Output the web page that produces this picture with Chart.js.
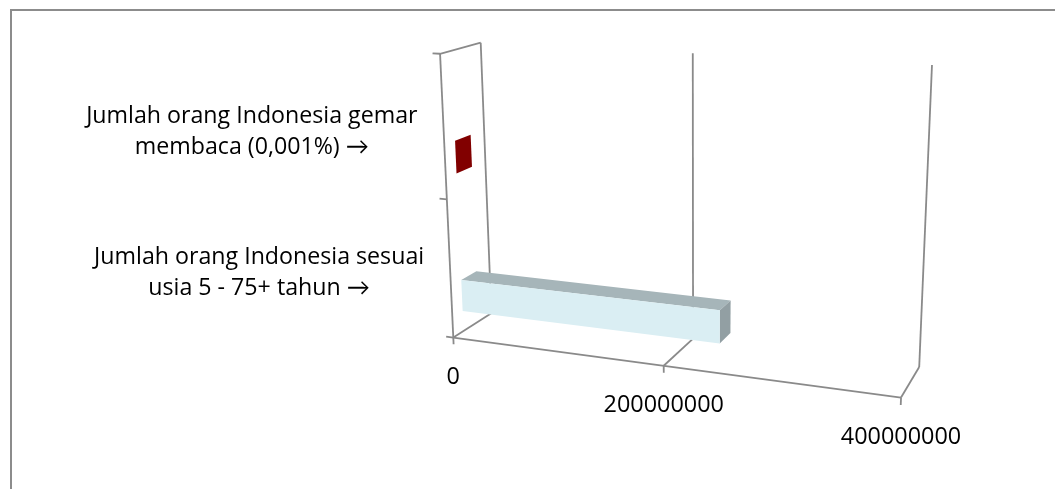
<!DOCTYPE html>
<html>
<head>
<meta charset="utf-8">
<script src="https://cdn.jsdelivr.net/npm/chart.js@4.4.1/dist/chart.umd.min.js"></script>
<style>
  html, body { margin: 0; padding: 0; background: #ffffff; }
  canvas { display: block; }
</style>
</head>
<body>
<canvas id="chart" width="1055" height="489"></canvas>
<script>
// Categories along the vertical axis, first one at the bottom
const categories = [
  ['Jumlah orang Indonesia sesuai', 'usia 5 - 75+ tahun →'],
  ['Jumlah orang Indonesia gemar', 'membaca (0,001%) →']
];
// Number of people per category
const peopleCount = [243000000, 2430];
// Base colour of each bar
const barColors = ['#DAEEF3', '#C00000'];
// Value axis ticks
const valueTicks = [0, 200000000, 400000000];

// ---- 3-D box camera -------------------------------------------------------
// Box coordinates: X = value fraction, Y = category fraction, Z = depth (0 front, 1 back).
// Screen anchors of the box corners used to calibrate a perspective camera.
const boxAnchors = [
  [[0, 0, 0], [453, 338]],
  [[0, 1, 0], [441, 54]],
  [[0, 0.5, 0], [446, 199]],
  [[0, 0, 1], [492, 313]],
  [[0, 1, 1], [480, 43]],
  [[0.5, 0, 0], [664, 366]],
  [[0.5, 0, 1], [693, 338]],
  [[0.5, 1, 1], [693, 53]],
  [[1, 0, 0], [901, 397]],
  [[1, 0, 1], [919, 368]],
  [[1, 1, 1], [932, 65]]
];
const barDepth = [0.26, 0.65];   // front and back face of every bar along Z
const barDrop = 0.1175;          // bars sit below the category centre

function solveLinear(A, b) {
  const n = b.length;
  const M = A.map((row, i) => row.concat([b[i]]));
  for (let c = 0; c < n; c++) {
    let p = c;
    for (let r = c + 1; r < n; r++) if (Math.abs(M[r][c]) > Math.abs(M[p][c])) p = r;
    const t = M[c]; M[c] = M[p]; M[p] = t;
    for (let r = 0; r < n; r++) {
      if (r === c) continue;
      const f = M[r][c] / M[c][c];
      for (let k = c; k <= n; k++) M[r][k] -= f * M[c][k];
    }
  }
  return M.map((row, i) => row[n] / row[i]);
}

function fitCamera(pairs) {
  const rows = [], rhs = [];
  pairs.forEach(([[X, Y, Z], [u, v]]) => {
    rows.push([X, Y, Z, 1, 0, 0, 0, 0, -u * X, -u * Y, -u * Z]); rhs.push(u);
    rows.push([0, 0, 0, 0, X, Y, Z, 1, -v * X, -v * Y, -v * Z]); rhs.push(v);
  });
  const n = 11;
  const AtA = Array.from({ length: n }, () => new Array(n).fill(0));
  const Atb = new Array(n).fill(0);
  rows.forEach((r, i) => {
    for (let a = 0; a < n; a++) {
      Atb[a] += r[a] * rhs[i];
      for (let b = 0; b < n; b++) AtA[a][b] += r[a] * r[b];
    }
  });
  const p = solveLinear(AtA, Atb);
  return (X, Y, Z) => {
    const w = p[8] * X + p[9] * Y + p[10] * Z + 1;
    return [(p[0] * X + p[1] * Y + p[2] * Z + p[3]) / w,
            (p[4] * X + p[5] * Y + p[6] * Z + p[7]) / w];
  };
}
const project = fitCamera(boxAnchors);

function shade(hex, f) {
  const n = parseInt(hex.slice(1), 16);
  const r = Math.round(((n >> 16) & 255) * f);
  const g = Math.round(((n >> 8) & 255) * f);
  const b = Math.round((n & 255) * f);
  return `rgb(${r},${g},${b})`;
}

function poly(ctx, pts, fill) {
  ctx.beginPath();
  pts.forEach(([u, v], i) => (i ? ctx.lineTo(u, v) : ctx.moveTo(u, v)));
  ctx.closePath();
  ctx.fillStyle = fill;
  ctx.fill();
}

function line(ctx, a, b) {
  ctx.beginPath();
  ctx.moveTo(a[0], a[1]);
  ctx.lineTo(b[0], b[1]);
  ctx.stroke();
}

const FRAME_COLOR = '#8a8a8a';
const LABEL_FONT = '23.2px "Open Sans", Lato, sans-serif';
const TICK_FONT = '23.4px "Open Sans", Lato, sans-serif';

const box3d = {
  id: 'box3d',
  beforeDatasetsDraw() { return false; },
  afterDraw(chart) {
    const ctx = chart.ctx;
    const xs = chart.scales.x;
    const ys = chart.scales.y;
    const xDec = v => xs.getDecimalForPixel(xs.getPixelForValue(v));
    const yDec = px => ys.getDecimalForPixel(px);

    ctx.save();
    // chart area outline (top and left edges)
    ctx.strokeStyle = '#8c8c8c';
    ctx.lineWidth = 2;
    ctx.beginPath();
    ctx.moveTo(11, chart.height);
    ctx.lineTo(11, 10);
    ctx.lineTo(chart.width, 10);
    ctx.stroke();

    // walls, floor and gridlines
    ctx.strokeStyle = FRAME_COLOR;
    ctx.lineWidth = 1.8;
    ctx.lineCap = 'butt';
    // side wall outline at X = 0
    line(ctx, project(0, 0, 0), project(0, 1, 0));
    line(ctx, project(0, 1, 0), project(0, 1, 1));
    // category axis ticks
    [0, 0.5, 1].forEach(Y => line(ctx, project(-0.018, Y, 0), project(0, Y, 0)));
    // floor front edge
    line(ctx, project(0, 0, 0), project(1, 0, 0));
    // value gridlines: up the back wall and across the floor
    xs.ticks.forEach(t => {
      const d = xDec(t.value);
      line(ctx, project(d, 1, 1), project(d, 0, 1));
      line(ctx, project(d, 0, 1), project(d, 0, 0));
      line(ctx, project(d, 0, 0), project(d, -0.025, 0));
    });

    // bars
    const meta = chart.getDatasetMeta(0);
    meta.data.forEach((bar, i) => {
      const x0 = xDec(0);
      const x1 = xDec(chart.data.datasets[0].data[i]);
      const ya = yDec(bar.y - bar.height / 2);
      const yb = yDec(bar.y + bar.height / 2);
      const y0 = Math.min(ya, yb) - barDrop;
      const y1 = Math.max(ya, yb) - barDrop;
      const [z0, z1] = barDepth;
      const base = barColors[i];
      // top face
      poly(ctx, [project(x0, y1, z0), project(x1, y1, z0), project(x1, y1, z1), project(x0, y1, z1)], shade(base, 0.76));
      // end face
      poly(ctx, [project(x1, y0, z0), project(x1, y0, z1), project(x1, y1, z1), project(x1, y1, z0)], shade(base, 0.67));
      // front face
      poly(ctx, [project(x0, y0, z0), project(x1, y0, z0), project(x1, y1, z0), project(x0, y1, z0)], base);
    });

    // value axis labels
    ctx.fillStyle = '#000000';
    ctx.textAlign = 'center';
    ctx.textBaseline = 'middle';
    ctx.font = TICK_FONT;
    xs.ticks.forEach(t => {
      const [u, v] = project(xDec(t.value), 0, 0);
      ctx.fillText(String(t.value), u, v + 40);
    });

    // category labels
    ctx.font = LABEL_FONT;
    ys.getLabels().forEach((lines, i) => {
      const yc = yDec(ys.getPixelForValue(i));
      const [u, v] = project(0, yc, 0);
      const w = Math.max(...lines.map(s => ctx.measureText(s).width));
      const cx = u - 26 - w / 2;
      const lh = 31;
      const top = v + 4 - (lines.length - 1) * lh / 2;
      lines.forEach((s, k) => ctx.fillText(s, cx, top + k * lh));
    });
    ctx.restore();
  }
};

new Chart(document.getElementById('chart'), {
  type: 'bar',
  data: {
    labels: categories,
    datasets: [{
      data: peopleCount,
      backgroundColor: barColors,
      barPercentage: 0.23,
      categoryPercentage: 1
    }]
  },
  options: {
    indexAxis: 'y',
    responsive: false,
    animation: false,
    devicePixelRatio: 1,
    layout: { padding: 0 },
    plugins: { legend: { display: false }, tooltip: { enabled: false } },
    scales: {
      x: {
        type: 'linear', min: 0, max: 400000000, display: false,
        afterBuildTicks: s => { s.ticks = valueTicks.map(v => ({ value: v })); }
      },
      y: { type: 'category', reverse: true, display: false }
    }
  },
  plugins: [box3d]
});
</script>
</body>
</html>
